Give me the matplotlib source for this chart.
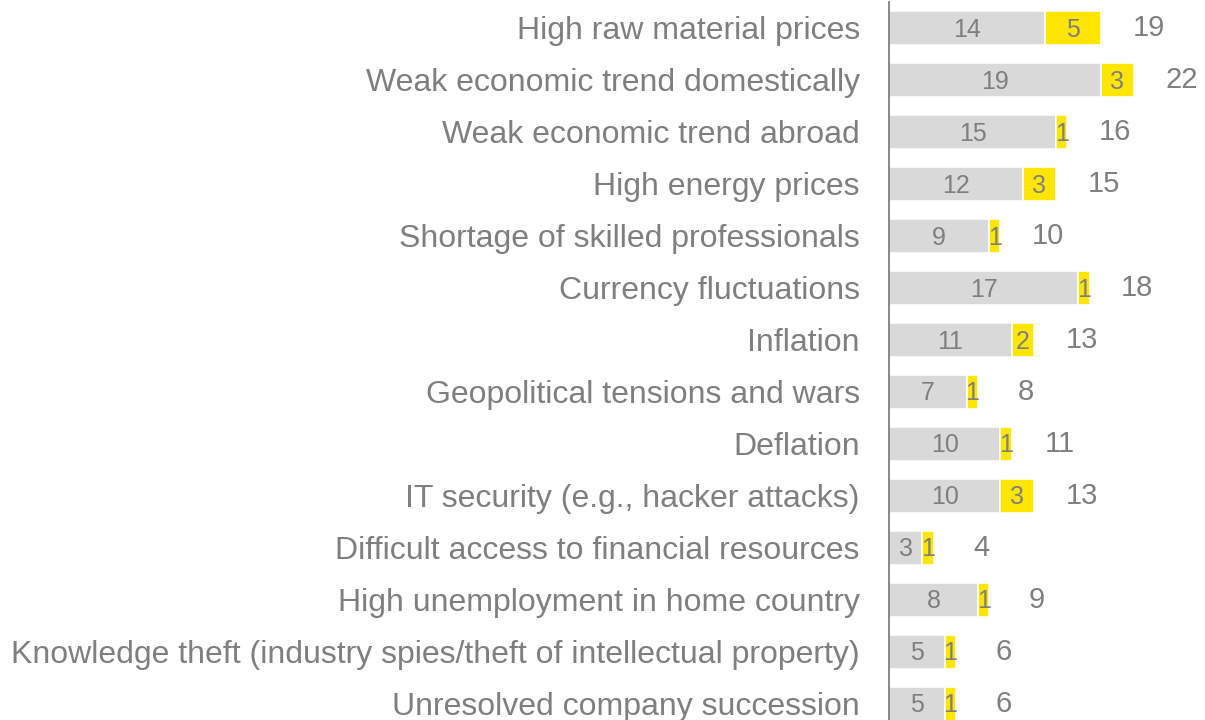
import numpy as np
from matplotlib import pyplot as plt

# data
categories = [
    'High raw material prices',
    'Weak economic trend domestically',
    'Weak economic trend abroad',
    'High energy prices',
    'Shortage of skilled professionals',
    'Currency fluctuations',
    'Inflation',
    'Geopolitical tensions and wars',
    'Deflation',
    'IT security (e.g., hacker attacks)',
    'Difficult access to financial resources',
    'High unemployment in home country',
    'Knowledge theft (industry spies/theft of intellectual property)',
    'Unresolved company succession',
]
gray_values = [14, 19, 15, 12, 9, 17, 11, 7, 10, 10, 3, 8, 5, 5]
yellow_values = [5, 3, 1, 3, 1, 1, 2, 1, 1, 3, 1, 1, 1, 1]

GRAY = '#D9D9D9'
YELLOW = '#FFE600'
TEXT = '#7F7F7F'

plt.rcParams['font.family'] = ['Liberation Sans', 'DejaVu Sans']

fig = plt.figure(figsize=(12.05, 7.2), dpi=100)
ax = fig.add_axes([889 / 1205, 0, 306 / 1205, 718 / 720])

y = np.arange(len(categories))
gray = np.array(gray_values)
yellow = np.array(yellow_values)
total = gray + yellow

ax.barh(y, gray, height=0.66, color=GRAY, edgecolor='white', linewidth=1.2)
ax.barh(y, yellow, left=gray, height=0.66, color=YELLOW, edgecolor='white', linewidth=1.2)

for i in range(len(categories)):
    ax.text(gray[i] / 2, y[i] + 0.03, str(gray[i]), ha='center', va='center',
            fontsize=18, color=TEXT)
    ax.text(gray[i] + yellow[i] / 2, y[i] + 0.03, str(yellow[i]), ha='center', va='center',
            fontsize=18, color=TEXT)
    ax.text(total[i] + 4.3, y[i], str(total[i]), ha='center', va='center',
            fontsize=21, color=TEXT)

ax.set_xlim(0, 306 / 11.14)
ax.set_ylim(13.31, -0.5)
ax.set_yticks(y)
ax.set_yticklabels(categories, fontsize=23, color=TEXT)
ax.tick_params(axis='y', length=0, pad=21)
ax.set_xticks([])

for side in ['top', 'right', 'bottom']:
    ax.spines[side].set_visible(False)
ax.spines['left'].set_color(TEXT)
ax.spines['left'].set_linewidth(1.3)

fig.savefig('out.png', dpi=100)
